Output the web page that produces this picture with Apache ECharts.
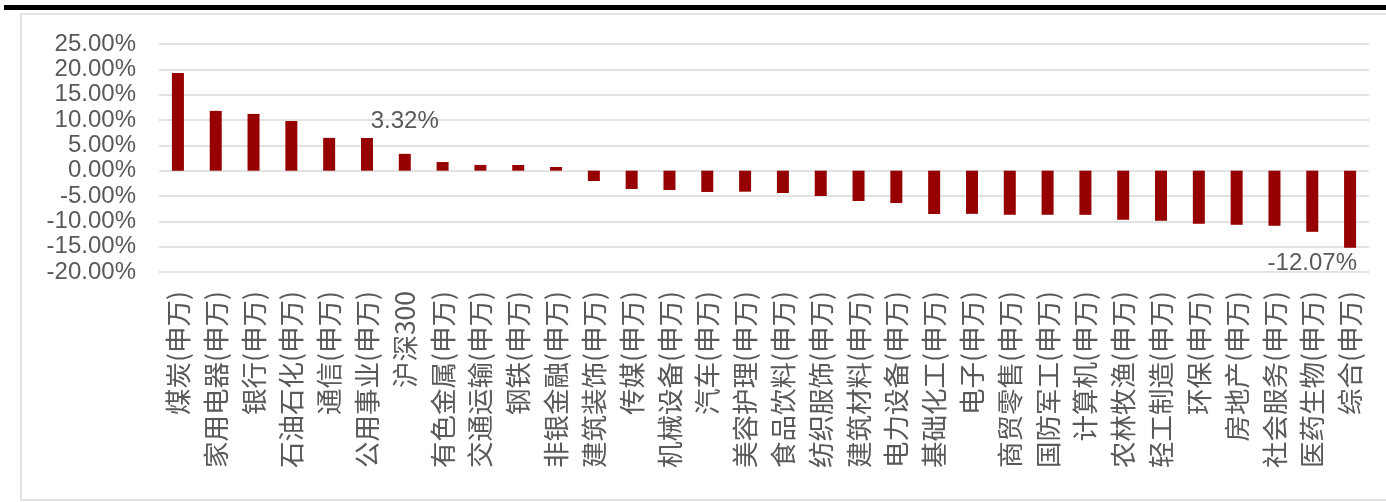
<!doctype html>
<html>
<head>
<meta charset="utf-8">
<title>申万行业涨跌幅</title>
<style type="text/css">
html,body {
  margin:0;
  padding:0;
  background-color:#fff;
}
#chart {
  width:1386px;
  height:502px;
}
</style>
<script type="text/javascript" src="https://cdn.jsdelivr.net/npm/echarts@6/dist/echarts.min.js"></script>
</head>
<body>
<div id="chart"></div>
<script type="text/javascript">
// 行业名称
var categories = [
  '煤炭(申万)', '家用电器(申万)', '银行(申万)', '石油石化(申万)', '通信(申万)',
  '公用事业(申万)', '沪深300', '有色金属(申万)', '交通运输(申万)', '钢铁(申万)',
  '非银金融(申万)', '建筑装饰(申万)', '传媒(申万)', '机械设备(申万)', '汽车(申万)',
  '美容护理(申万)', '食品饮料(申万)', '纺织服饰(申万)', '建筑材料(申万)', '电力设备(申万)',
  '基础化工(申万)', '电子(申万)', '商贸零售(申万)', '国防军工(申万)', '计算机(申万)',
  '农林牧渔(申万)', '轻工制造(申万)', '环保(申万)', '房地产(申万)', '社会服务(申万)',
  '医药生物(申万)', '综合(申万)'
];
// 涨跌幅 %
var values = [
  19.29, 11.80, 11.20, 9.80, 6.47,
  6.45, 3.32, 1.70, 1.13, 1.12,
  0.73, -2.04, -3.62, -3.82, -4.20,
  -4.15, -4.41, -5.00, -5.99, -6.39,
  -8.55, -8.52, -8.70, -8.70, -8.72,
  -9.69, -9.89, -10.48, -10.68, -10.88,
  -12.07, -15.23
];
// 只标注的两个数据
var labelled = ['沪深300', '医药生物(申万)'];

var yMin = -20, yMax = 25, yStep = 5;

var myChart = echarts.init(document.getElementById('chart'));

var barData = values.map(function (v, i) {
  var item = { value: v };
  if (labelled.indexOf(categories[i]) >= 0) {
    item.label = {
      show: true,
      position: v >= 0 ? 'top' : 'bottom',
      distance: 20,
      color: '#595959',
      fontSize: 24,
      fontFamily: 'Liberation Sans',
      formatter: function (p) { return p.value.toFixed(2) + '%'; }
    };
  }
  return item;
});

var option = {
  backgroundColor: '#fff',
  animation: false,
  graphic: [
    { type: 'rect', shape: { x: 4, y: 5, width: 1382, height: 5 }, style: { fill: '#000' } },
    { type: 'rect', shape: { x: 21, y: 14, width: 1380, height: 486 },
      style: { fill: 'none', stroke: '#d9d9d9', lineWidth: 1.5 } }
  ],
  grid: { left: 159, right: 17, top: 44, bottom: 230 },
  xAxis: {
    type: 'category',
    data: categories,
    axisLine: { show: false, onZero: false },
    axisTick: { show: false },
    axisLabel: {
      interval: 0,
      rotate: 90,
      margin: 19,
      color: '#595959',
      fontSize: 26.5,
      fontFamily: 'Noto Sans CJK SC'
    }
  },
  yAxis: {
    type: 'value',
    min: yMin,
    max: yMax,
    interval: yStep,
    axisLine: { show: false },
    axisTick: { show: false },
    splitLine: { lineStyle: { color: '#d9d9d9', width: 1.5 } },
    axisLabel: {
      margin: 23,
      color: '#595959',
      fontSize: 24,
      fontFamily: 'Liberation Sans',
      formatter: function (v) { return v.toFixed(2) + '%'; }
    }
  },
  series: [{
    type: 'bar',
    data: barData,
    barWidth: 12,
    itemStyle: { color: '#960000' }
  }]
};
myChart.setOption(option);
</script>
</body>
</html>
